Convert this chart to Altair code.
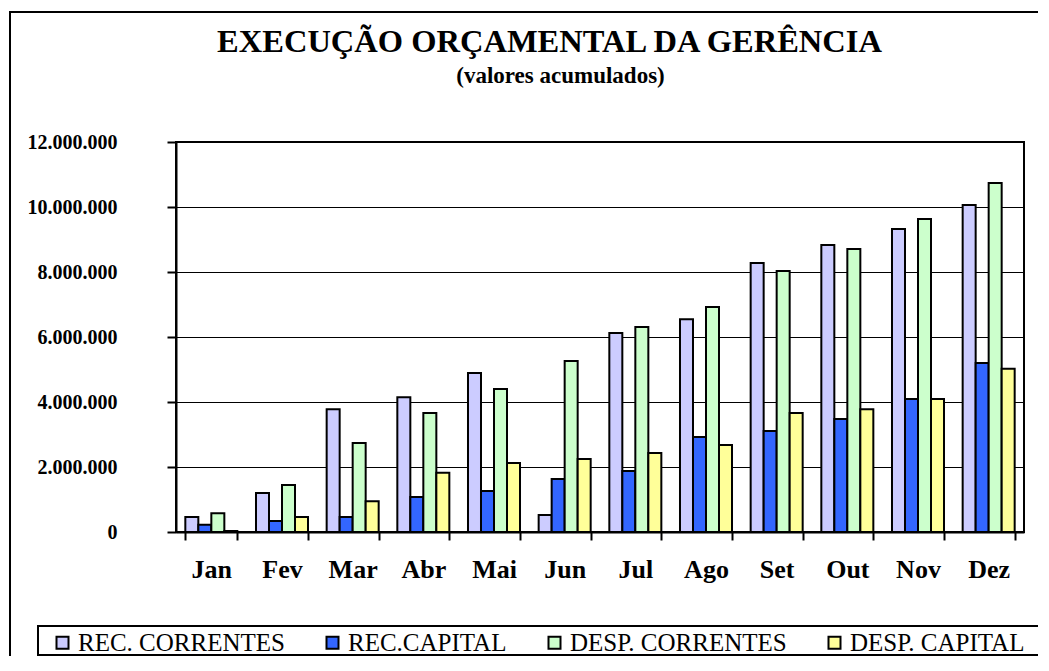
import altair as alt
import pandas as pd

# ---- data ----
months = ["Jan", "Fev", "Mar", "Abr", "Mai", "Jun", "Jul", "Ago", "Set", "Out", "Nov", "Dez"]
series = ["REC. CORRENTES", "REC.CAPITAL", "DESP. CORRENTES", "DESP. CAPITAL"]
colors = ["#CCCCFF", "#3366FF", "#CCFFCC", "#FFFF99"]

rec_correntes = [460000, 1200000, 3780000, 4150000, 4890000, 520000,
                 6120000, 6550000, 8280000, 8830000, 9320000, 10060000]
rec_capital = [220000, 340000, 460000, 1080000, 1260000, 1630000,
               1880000, 2920000, 3110000, 3480000, 4090000, 5200000]
desp_correntes = [580000, 1450000, 2740000, 3660000, 4400000, 5260000,
                  6310000, 6920000, 8030000, 8710000, 9630000, 10740000]
desp_capital = [30000, 460000, 950000, 1820000, 2120000, 2250000,
                2430000, 2680000, 3660000, 3780000, 4090000, 5020000]
y_ticks = [0, 2000000, 4000000, 6000000, 8000000, 10000000, 12000000]

title_text = "EXECUÇÃO ORÇAMENTAL DA GERÊNCIA"
subtitle_text = "(valores acumulados)"

rows = []
for name, vals in zip(series, [rec_correntes, rec_capital, desp_correntes, desp_capital]):
    for m, v in zip(months, vals):
        rows.append({"mes": m, "serie": name, "valor": v})
df = pd.DataFrame(rows)

FONT = "Liberation Serif"
W, H = 848, 390

bars = alt.Chart(df).mark_bar(stroke="black", strokeWidth=2, opacity=1).encode(
    x=alt.X("mes:N", sort=months, title=None,
            scale=alt.Scale(paddingInner=0.264, paddingOuter=0.132),
            axis=alt.Axis(labelAngle=0, labelFont=FONT, labelFontSize=26,
                          labelFontWeight="bold", labelColor="black",
                          labelPadding=16, tickBand="extent", tickSize=8,
                          tickWidth=2, tickColor="black", domainColor="black",
                          domainWidth=2, grid=False)),
    xOffset=alt.XOffset("serie:N", sort=series, scale=alt.Scale(paddingInner=0, paddingOuter=0)),
    y=alt.Y("valor:Q", title=None,
            scale=alt.Scale(domain=[0, 12000000], nice=False),
            axis=alt.Axis(values=y_ticks, labelFont=FONT, labelFontSize=20,
                          labelFontWeight="bold", labelColor="black",
                          labelPadding=50, tickSize=9, tickWidth=2,
                          tickColor="black", domainColor="black", domainWidth=2,
                          grid=True, gridColor="black", gridWidth=1,
                          labelExpr="replace(format(datum.value, ','), regexp(',', 'g'), '.')")),
    color=alt.Color("serie:N", sort=series,
                    scale=alt.Scale(domain=series, range=colors),
                    legend=alt.Legend(title=None, orient="none", legendX=-126, legendY=488,
                                      direction="horizontal", columns=4,
                                      labelFont=FONT, labelFontSize=25, labelColor="black",
                                      labelOffset=3, columnPadding=35,
                                      symbolType="square", symbolSize=144,
                                      symbolStrokeColor="black", symbolStrokeWidth=2,
                                      symbolOpacity=1, labelLimit=400)),
)

one = pd.DataFrame({"t": [title_text]})
title = alt.Chart(one).mark_text(font=FONT, fontSize=32.5, fontWeight="bold",
                                 align="center", baseline="alphabetic", color="black").encode(
    text="t:N", x=alt.value(373.5), y=alt.value(-89.7))

one_s = pd.DataFrame({"t": [subtitle_text]})
subtitle = alt.Chart(one_s).mark_text(font=FONT, fontSize=23, fontWeight="bold",
                                      align="center", baseline="alphabetic", color="black").encode(
    text="t:N", x=alt.value(384.5), y=alt.value(-59.5))

frame_df = pd.DataFrame({"k": [1]})
frame_top = alt.Chart(frame_df).mark_rule(color="black", strokeWidth=2).encode(
    x=alt.value(-166), x2=alt.value(900), y=alt.value(-130))
frame_left = alt.Chart(frame_df).mark_rule(color="black", strokeWidth=2).encode(
    x=alt.value(-166), y=alt.value(-131), y2=alt.value(600))
legend_box = alt.Chart(frame_df).mark_rect(fillOpacity=0, stroke="black", strokeWidth=2).encode(
    x=alt.value(-138), x2=alt.value(900), y=alt.value(484), y2=alt.value(513))

chart = alt.layer(frame_top, frame_left, legend_box, bars, title, subtitle).properties(
    width=W, height=H,
    autosize=alt.AutoSizeParams(type="none"),
    padding={"left": 168, "top": 134, "right": 14, "bottom": 124},
    background="white",
).configure_view(stroke="black", strokeWidth=2)

chart.save("out.html", embed_options={"renderer": "svg", "actions": False})
